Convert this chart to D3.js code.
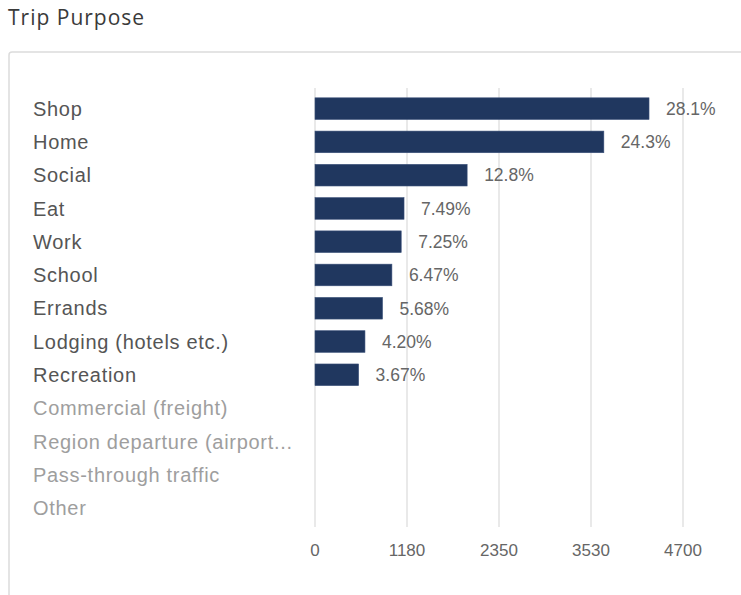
<!DOCTYPE html>
<html>
<head>
<meta charset="utf-8">
<style>
  body { margin: 0; background: #fff; }
  svg { display: block; }
  .title { font-family: "Open Sans", Lato, sans-serif; font-size: 21px; fill: #3a3a3a; letter-spacing: 1px; }
  .cat { font-family: "Liberation Sans", Arial, sans-serif; font-size: 20px; letter-spacing: 0.7px; }
  .val { font-family: "Liberation Sans", Arial, sans-serif; font-size: 17.5px; fill: #666; }
  .tick text { font-family: "Liberation Sans", Arial, sans-serif; font-size: 17px; fill: #666; }
</style>
<script src="https://d3js.org/d3.v7.min.js"></script>
</head>
<body>
<svg width="741" height="595"></svg>
<script>
var categories = ["Shop", "Home", "Social", "Eat", "Work", "School", "Errands",
  "Lodging (hotels etc.)", "Recreation", "Commercial (freight)",
  "Region departure (airport...", "Pass-through traffic", "Other"];
var trips = [4266, 3689, 1943, 1137, 1101, 982, 862, 638, 557, 0, 0, 0, 0];
var shares = ["28.1%", "24.3%", "12.8%", "7.49%", "7.25%", "6.47%", "5.68%",
  "4.20%", "3.67%", "", "", "", ""];
var tickValues = [0, 1175, 2350, 3525, 4700];
var tickLabels = ["0", "1180", "2350", "3530", "4700"];

var svg = d3.select("svg");

svg.append("text")
    .attr("class", "title")
    .attr("x", 8)
    .attr("y", 25)
    .text("Trip Purpose");

// panel border (runs off the right and bottom edge)
svg.append("rect")
    .attr("x", 9).attr("y", 52)
    .attr("width", 800).attr("height", 600)
    .attr("rx", 3)
    .attr("fill", "none")
    .attr("stroke", "#dcdcdc")
    .attr("stroke-width", 1.5);

var x = d3.scaleLinear().domain([0, 4700]).range([315, 683]);
var y = d3.scaleBand().domain(categories).range([92, 524.5])
    .paddingInner(0.35).paddingOuter(0.175);

// gridlines + tick labels
var ticks = svg.append("g").selectAll("g")
  .data(tickValues)
  .enter().append("g")
    .attr("class", "tick")
    .attr("transform", function(d) { return "translate(" + x(d) + ",0)"; });

ticks.append("line")
    .attr("y1", 88).attr("y2", 527)
    .attr("stroke", "#e2e2e2")
    .attr("stroke-width", 1.5);

ticks.append("text")
    .attr("y", 556)
    .attr("text-anchor", "middle")
    .text(function(d, i) { return tickLabels[i]; });

var rows = categories.map(function(c, i) {
  return { cat: c, value: trips[i], share: shares[i] };
});

svg.append("g").selectAll("rect")
  .data(rows.filter(function(d) { return d.value > 0; }))
  .enter().append("rect")
    .attr("x", x(0))
    .attr("y", function(d) { return y(d.cat); })
    .attr("width", function(d) { return x(d.value) - x(0); })
    .attr("height", y.bandwidth())
    .attr("fill", "#20375f")
    .attr("stroke", "#3a5079")
    .attr("stroke-width", 0.6);

svg.append("g").selectAll("text")
  .data(rows.filter(function(d) { return d.value > 0; }))
  .enter().append("text")
    .attr("class", "val")
    .attr("x", function(d) { return x(d.value) + 17; })
    .attr("y", function(d) { return y(d.cat) + y.bandwidth() / 2; })
    .attr("dy", "0.36em")
    .text(function(d) { return d.share; });

svg.append("g").selectAll("text")
  .data(rows)
  .enter().append("text")
    .attr("class", "cat")
    .attr("x", 33)
    .attr("y", function(d) { return y(d.cat) + y.bandwidth() / 2; })
    .attr("dy", "0.36em")
    .attr("fill", function(d) { return d.value > 0 ? "#555" : "#9e9e9e"; })
    .text(function(d) { return d.cat; });
</script>
</body>
</html>
